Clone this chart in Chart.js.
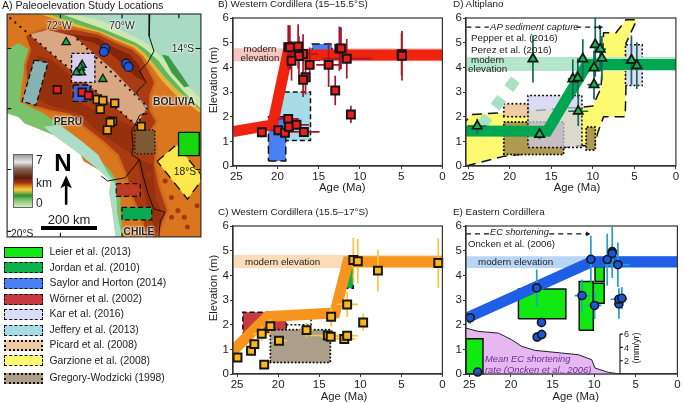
<!DOCTYPE html>
<html>
<head>
<meta charset="utf-8">
<script src="https://cdn.jsdelivr.net/npm/chart.js@4"></script>
<style>
  html, body { margin: 0; padding: 0; background: #fff; }
  #page { position: relative; width: 683px; height: 403px; overflow: hidden; font-family: "Liberation Sans", sans-serif; color: #222; }
  canvas { position: absolute; }
  .lbl { position: absolute; white-space: nowrap; line-height: 1; transform: translateY(-50%); }
  .swatch { position: absolute; left: 4px; width: 39px; height: 10px; box-sizing: border-box; }
</style>
</head>
<body>
<div id="page"></div>
<script>
// panel B, Western Cordillera 15-15.5
const bAge = [21.9, 19.9, 19.1, 18.7, 18.6, 17.7, 16.8, 18.7, 18.5, 17.5, 16.9, 17.4, 18.3, 16.1, 16.6, 16.9, 13.8, 13.0, 12.5, 12.3, 11.6, 11.1, 4.95, 4.9];
const bElev = [1.37, 1.45, 1.35, 1.91, 1.59, 1.67, 1.38, 4.82, 4.81, 4.85, 4.54, 4.46, 4.27, 4.1, 3.6, 3.5, 4.1, 3.06, 4.76, 4.77, 4.35, 2.09, 4.53, 4.47];
const bAgeErr = [0.5, 1, 0.5, 1.3, 0.5, 1.5, 1.9, 0.3, 0.3, 0.2, 1.8, 0.3, 0.3, 0.4, 0.4, 0.3, 1.5, 0, 0.3, 0.3, 3, 0.3, 0.2, 0.2];
const bElevErr = [0.2, 0.2, 0.2, 0.15, 0.3, 0.2, 0.2, 0.9, 0.9, 0.9, 0.8, 0.8, 0.8, 0.7, 0.7, 0.7, 0.9, 0.6, 0.9, 0.85, 0.8, 0.35, 0.85, 1.0];
const bTrendAge = [25.4, 20.6, 18.8, 0];
const bTrendElev = [1.4, 1.67, 4.5, 4.5];
const bModern = [4.25, 4.77];
const bJeffery = [20.2, 16, 1.03, 3.0];
const bSaylorLow = [21.1, 19, 0.2, 2.0];
const bSaylorHigh = [15.8, 13.4, 4.3, 4.95];

// panel C, Western Cordillera 15.5-17
const cAge = [24.95, 23.3, 22.9, 22, 21.7, 20.95, 19.9, 16.55, 13.95, 13.6, 13.55, 11.95, 11.6, 11.6, 10.85, 10.3, 9.65, 7.85, 0.5];
const cElev = [0.67, 0.94, 1.21, 1.63, 0.38, 1.94, 1.35, 1.78, 1.56, 1.51, 2.32, 1.42, 1.55, 2.82, 4.62, 4.57, 2.09, 4.19, 4.5];
const cAgeErr = [0, 0.5, 0.5, 1, 0.3, 0.6, 1, 0.8, 2.3, 1.2, 0.3, 1.3, 1.3, 1.3, 0.2, 0.2, 0.2, 0.1, 0.1];
const cElevErr = [0, 0.2, 0.2, 0.3, 0.1, 0.3, 0.2, 0.3, 0.2, 0.2, 0.4, 0.2, 0.2, 0.5, 0.9, 0.9, 0.35, 0.85, 1.0];
const cTrendAge = [25.7, 21.3, 13.1, 11.5, 0];
const cTrendElev = [0.88, 2.33, 2.47, 4.55, 4.55];
const cModern = [4.3, 4.82];
const cWorner = [24.3, 19, 1.66, 2.5];
const cKar = [19, 16, 2.0, 2.5];
const cGregory = [20.95, 13.65, 0.47, 1.79];
const cJordan = [12.05, 10.85, 3.48, 4.33];

// panel D, Altiplano
const dAge = [23.9, 16.4, 17.2, 12.4, 11.8, 11.2, 11.75, 9.85, 9.85, 9.7, 9.1, 8.9, 5.35, 4.7];
const dElev = [1.62, 1.28, 4.34, 3.53, 3.57, 4.34, 2.22, 3.98, 3.3, 4.92, 4.74, 4.37, 4.29, 4.07];
const dAgeErr = [1.1, 0.3, 0.3, 0.6, 0.4, 0.3, 1.2, 0.6, 0.8, 0.3, 0.7, 0.3, 1, 0.6];
const dElevErr = [0.3, 0.2, 0.95, 0.8, 0.8, 0.8, 0.6, 0.7, 0.6, 1.3, 0.9, 0.9, 1, 0.95];
const dTrendAge = [25.25, 15.5, 10.7, 0];
const dTrendElev = [1.42, 1.41, 4.11, 4.11];
const dGhostAge = [23.4, 18.45];
const dGhostElev = [1.64, 3.88];
const dModern = [3.85, 4.42];
const dPicard = [20.7, 17.75, 2.0, 2.52];
const dGregory = [20.7, 13.5, 0.47, 1.78];
const dGregorySmall = [10.8, 9.7, 0.65, 1.58];
const dKar = [17.8, 11.3, 0.75, 2.86];
const dKarSmall = [6.07, 4.05, 3.26, 4.92];
const dGarzioneAge = [25.25, 20.6, 17.8, 13.5, 11.3, 10.5, 9.9, 9.4, 8.7, 6.1, 6.0, 6.0, 4.7, 6.0, 7.2, 8.7, 9.0, 10.0, 11.9, 12.9, 17.7, 20.6, 24.6, 25.25];
const dGarzioneElev = [0, 0.4, 0.5, 0.75, 0.83, 0.81, 0.67, 1.35, 2.0, 2.0, 3.25, 4.98, 5.93, 5.93, 5.4, 5.4, 3.17, 2.43, 2.36, 2.36, 2.23, 2.16, 2.09, 1.82];
const dCaptureLeftAge = [25.2, 22.5];
const dCaptureRightAge = [12, 9.1];
const dCaptureElev = [5.63, 5.63];

// panel E, Eastern Cordillera
const eAge = [24.9, 24, 16.9, 16.33, 16.85, 16.3, 11.46, 10.4, 9.95, 8.43, 7.83, 7.83, 7.15, 7.03, 7.03, 6.67];
const eElev = [2.28, 0.08, 3.49, 2.09, 1.5, 1.6, 3.18, 4.65, 2.78, 4.64, 4.96, 4.89, 4.43, 2.84, 3.03, 3.07];
const eAgeErr = [0.2, 0, 0.3, 0.3, 0.2, 0.2, 0.9, 0.3, 0.8, 0.5, 0.2, 0.2, 1.5, 0.5, 1, 0.3];
const eElevErr = [0.25, 0, 0.75, 0.2, 0.2, 0.2, 0.65, 0.95, 0.55, 1.05, 1, 1, 0.9, 0.6, 0.45, 0.45];
const eTrendAge = [25.4, 10.3, 0];
const eTrendElev = [2.26, 4.55, 4.55];
const eModern = [4.3, 4.77];
const eLeierBoxes = [[19.1, 13.4, 2.24, 3.45], [11.8, 10.1, 1.77, 3.75], [10.1, 8.8, 2.87, 3.68], [9.9, 8.8, 3.75, 4.35], [25.4, 23.36, 0, 1.43]];
const eRateAge = [25.4, 23.9, 21.5, 19.9, 18.7, 17.1, 13.9, 11.9, 10.3, 9.9, 8.3, 6.9];
const eRate = [6.9, 6.4, 6.15, 5.15, 4.15, 3.55, 3.15, 2.9, 2.15, 0.9, 0.25, 0];
const eRateTicks = [0, 2, 4, 6];
const eRateAxisAge = 6.9;
const eCaptureLeftAge = [25.4, 22.6];
const eCaptureRightAge = [15.4, 10.8];
const eCaptureElev = [5.68, 5.68];

// panel A, outlines digitised in map grid units
const mapWidth = [5, 612];
const mapHeight = [42, 720];
const mapFrame = [[5, 42], [612, 42], [612, 720], [5, 720], [5, 42]];
const paleLand = [[5, 42], [205, 42], [300, 62], [400, 110], [450, 135], [500, 185], [560, 250], [612, 300], [612, 720], [5, 720]];
const greenLand = [[5, 42], [175, 42], [240, 65], [300, 85], [360, 110], [410, 130], [440, 150], [480, 185], [510, 225], [560, 280], [612, 330], [612, 720], [5, 720]];
const darkGreen = [[490, 165], [510, 170], [550, 225], [575, 262], [560, 265], [520, 220]];
const yellowLand = [[5, 42], [135, 42], [230, 75], [300, 95], [360, 120], [410, 140], [440, 165], [470, 200], [500, 235], [540, 275], [612, 335], [612, 720], [5, 720]];
const orangeLand = [[5, 42], [110, 42], [215, 80], [290, 100], [350, 125], [400, 145], [430, 170], [460, 205], [490, 245], [530, 285], [612, 345], [612, 720], [5, 720]];
const westGreen = [[5, 150], [40, 130], [75, 150], [60, 200], [50, 260], [45, 310], [120, 345], [200, 400], [280, 470], [330, 520], [360, 570], [360, 640], [370, 720], [345, 720], [330, 550], [290, 515], [235, 470], [150, 410], [60, 375], [5, 345]];
const westPale = [[120, 385], [170, 380], [240, 430], [290, 470], [320, 525], [345, 560], [350, 650], [365, 720], [345, 720], [335, 645], [325, 585], [330, 550], [290, 515], [235, 470], [200, 445], [150, 410]];
const highland = [[65, 110], [120, 90], [215, 90], [290, 105], [345, 130], [395, 150], [425, 175], [445, 210], [465, 250], [450, 290], [450, 335], [470, 370], [450, 400], [470, 440], [465, 500], [480, 570], [505, 640], [480, 700], [470, 720], [440, 720], [430, 660], [400, 600], [380, 530], [355, 470], [310, 430], [250, 385], [200, 345], [145, 335], [90, 320], [70, 270], [65, 200], [80, 150]];
const darkCrest = [[180, 100], [290, 115], [340, 145], [390, 165], [420, 200], [435, 245], [410, 235], [345, 175], [280, 130], [215, 115]];
const darkWest = [[100, 170], [140, 180], [205, 230], [205, 290], [270, 330], [320, 350], [400, 385], [400, 470], [350, 440], [290, 400], [230, 345], [140, 320], [100, 300]];
const darkSouth = [[410, 480], [460, 500], [470, 600], [490, 650], [470, 700], [450, 650], [430, 570]];
const darkSpots = [[450, 530], [500, 550], [520, 660], [560, 660], [540, 640], [600, 625], [520, 600], [570, 690], [510, 500]];
const ocean = [[5, 345], [40, 355], [60, 375], [100, 390], [150, 410], [200, 445], [235, 470], [245, 490], [290, 515], [330, 550], [325, 585], [335, 645], [345, 720], [5, 720]];
const altiplano = [[75, 105], [130, 90], [215, 110], [340, 215], [445, 325], [410, 380], [200, 210]];
const altiplanoSW = [[15, 55], [410, 380], [445, 325], [215, 110]];
const mapKar = [[207, 162], [280, 162], [280, 250], [207, 250], [207, 162]];
const mapJeffery = [[90, 182], [133, 190], [95, 320], [52, 308], [90, 182]];
const mapSaylor = [[212, 258], [265, 258], [265, 308], [212, 308], [212, 258]];
const mapGregory = [[405, 395], [468, 395], [468, 467], [405, 467], [405, 395]];
const mapLeier = [[542, 402], [607, 402], [607, 473], [542, 473], [542, 402]];
const mapGarzione = [[475, 490], [535, 440], [612, 530], [612, 550], [570, 605], [475, 490]];
const mapWorner = [[347, 558], [422, 558], [422, 597], [347, 597], [347, 558]];
const mapJordan = [[365, 630], [458, 630], [458, 668], [365, 668], [365, 630]];
const borderBolivia = [[452, 42], [450, 110], [465, 155], [445, 190], [420, 215], [440, 250], [410, 280], [415, 290]];
const borderGrey = [[415, 290], [445, 340]];
const borderSouth = [[445, 345], [420, 350], [405, 380], [395, 400], [400, 445], [395, 470], [420, 485], [430, 530], [445, 585], [465, 635], [500, 645], [485, 670], [480, 720]];
const borderChile = [[420, 485], [375, 540], [320, 550], [300, 535]];
const mapCircleX = [312, 308, 378, 385];
const mapCircleY = [147, 157, 193, 203];
const mapTriangleX = [190, 240, 235, 238, 222, 305];
const mapTriangleY = [128, 197, 205, 220, 220, 240];
const mapRedX = [162, 240, 260];
const mapRedY = [272, 280, 290];
const mapOrangeX = [287, 305, 342, 297, 335, 328, 319, 425];
const mapOrangeY = [302, 305, 313, 332, 368, 372, 395, 384];
const northArrow = [[190, 533], [208, 572], [194, 565], [194, 622], [186, 622], [186, 565], [172, 572]];
const mapTicks = [[172, 42], [172, 55], [NaN, NaN], [365, 42], [365, 55], [NaN, NaN], [543, 42], [543, 55], [NaN, NaN],
  [612, 147], [595, 147], [NaN, NaN], [612, 515], [595, 515], [NaN, NaN], [5, 147], [18, 147], [NaN, NaN], [5, 330], [18, 330], [NaN, NaN],
  [5, 515], [18, 515], [NaN, NaN], [5, 703], [18, 703], [NaN, NaN], [172, 720], [172, 707], [NaN, NaN], [365, 720], [365, 707]];

const legendNames = ["Leier et al. (2013)", "Jordan et al. (2010)", "Saylor and Horton (2014)", "Wörner et al. (2002)", "Kar et al. (2016)", "Jeffery et al. (2013)", "Picard et al. (2008)", "Garzione et al. (2008)", "Gregory-Wodzicki (1998)"];
const legendRows = [252, 267.7, 283.3, 299, 314.3, 330, 345.3, 360.7, 378.3];

// styles per study
const STUDY = {
  leier: { fill: "#12e812", dash: [], width: 1.5, css: "1.5px solid #111" },
  jordan: { fill: "#0db14b", dash: [5, 3], width: 1.5, css: "1.5px dashed #111" },
  saylor: { fill: "#4a80f5", dash: [8, 4], width: 1.5, css: "1.5px dashed #111" },
  worner: { fill: "#c73a3f", dash: [5, 3], width: 1.5, css: "1.5px dashed #111" },
  kar: { fill: "rgba(212,212,248,0.82)", dash: [2, 2], width: 1.5, css: "1.5px dashed #111" },
  jeffery: { fill: "#a7dbe8", dash: [5, 3], width: 1.5, css: "1.5px dashed #111" },
  picard: { fill: "#efcba5", dash: [0.1, 4], width: 2, cap: "round", css: "2px dotted #111" },
  garzione: { fill: "#fdfa72", dash: [10, 6], width: 1.5, css: "1.5px dashed #111" },
  gregory: { fill: "#ab9f8c", dash: [0.1, 3.5], width: 2, cap: "round", css: "2px dotted #111" },
};
const FONT = "Liberation Sans";
const gap = { x: NaN, y: NaN };

function toPts(xs, ys) { return xs.map((x, i) => ({ x: x, y: ys[i] })); }
function pairs(arr) { return arr.map((p) => ({ x: p[0], y: p[1] })); }
function rectPts(b) {
  return [{ x: b[0], y: b[2] }, { x: b[1], y: b[2] }, { x: b[1], y: b[3] }, { x: b[0], y: b[3] }, { x: b[0], y: b[2] }];
}

function shape(pts, fill, extra) {
  return Object.assign({ data: pts, showLine: true, fill: "shape", backgroundColor: fill, borderColor: "transparent", borderWidth: 0, pointRadius: 0, tension: 0, clip: 0 }, extra);
}
function box(pts, study, fillOverride) {
  const s = STUDY[study];
  return shape(pts, fillOverride || s.fill, { borderColor: "#111", borderWidth: s.width, borderDash: s.dash, borderCapStyle: s.cap || "butt", clip: 2 });
}
function line(pts, color, width, extra) {
  return Object.assign({ data: pts, showLine: true, fill: false, borderColor: color, borderWidth: width, pointRadius: 0, tension: 0, borderJoinStyle: "miter", borderCapStyle: "butt", clip: 0 }, extra);
}
function modernBand(range, xmax, color) { return shape(rectPts([xmax, 0, range[0], range[1]]), color); }
function errBars(ages, elevs, ageErr, elevErr, color) {
  const pts = [];
  ages.forEach((a, i) => {
    if (ageErr[i] > 0) pts.push({ x: a - ageErr[i], y: elevs[i] }, { x: a + ageErr[i], y: elevs[i] }, gap);
    if (elevErr[i] > 0) pts.push({ x: a, y: elevs[i] - elevErr[i] }, { x: a, y: elevs[i] + elevErr[i] }, gap);
  });
  return line(pts, color, 1.7);
}
function marks(xs, ys, style, color, r, bw, edge, rot) {
  return { data: toPts(xs, ys), showLine: false, pointStyle: style, pointRadius: r, pointRotation: rot || 0, pointBackgroundColor: color, pointBorderColor: edge || "#151515", pointBorderWidth: bw === undefined ? 2 : bw, clip: 10 };
}

const framePlugin = {
  id: "frame",
  afterDatasetsDraw(chart) {
    const a = chart.chartArea, c = chart.ctx;
    c.save();
    c.strokeStyle = "#333";
    c.lineWidth = 1.2;
    c.strokeRect(a.left, a.top, a.right - a.left, a.bottom - a.top);
    c.restore();
  },
};

const page = document.getElementById("page");
function makeCanvas(left, top, w, h) {
  const cv = document.createElement("canvas");
  cv.style.left = left + "px";
  cv.style.top = top + "px";
  cv.style.width = w + "px";
  cv.style.height = h + "px";
  cv.width = w;
  cv.height = h;
  page.appendChild(cv);
  return cv;
}
function render(cv, datasets, scales, padding) {
  const n = datasets.length;
  datasets.forEach((d, i) => { d.order = n - i; }); // first in list is painted first
  return new Chart(cv.getContext("2d"), {
    type: "scatter",
    data: { datasets: datasets },
    options: {
      responsive: false,
      animation: false,
      events: [],
      layout: { padding: padding },
      plugins: { legend: { display: false }, tooltip: { enabled: false } },
      scales: scales,
    },
    plugins: [framePlugin],
  });
}

// plot area is given in page pixels, the canvas is built round it
function panel(left, right, top, bottom, xMax, datasets, extraScales) {
  const padL = 28, padR = 5, padT = 18, padB = 34;
  const cv = makeCanvas(left - padL, top - padT, right - left + padL + padR, bottom - top + padT + padB);
  const tickFont = { family: FONT, size: 11.5 };
  const scales = Object.assign({
    x: {
      type: "linear", min: 0, max: xMax, reverse: true,
      ticks: { stepSize: 5, includeBounds: false, maxRotation: 0, font: tickFont, color: "#222", padding: 1 },
      grid: { drawOnChartArea: false, tickLength: 3, color: "#333" },
      border: { color: "#333", width: 1.2 },
      afterFit(s) { s.height = padB; },
    },
    y: {
      type: "linear", min: 0, max: 6,
      ticks: { stepSize: 1, includeBounds: false, font: tickFont, color: "#222", padding: 1 },
      grid: { drawOnChartArea: false, tickLength: 3, color: "#333" },
      border: { color: "#333", width: 1.2 },
      afterFit(s) { s.width = padL; },
    },
  }, extraScales || {});
  return render(cv, datasets, scales, { top: padT, right: padR, left: 0, bottom: 0 });
}

// A) map
function drawMap() {
  const cv = makeCanvas(0, 0, 208, 244);
  const s = (arr, fill, extra) => shape(pairs(arr), fill, extra);
  const datasets = [
    s(mapFrame, "#a8dac4"),
    s(paleLand, "#cde8ae"),
    s(greenLand, "#62b85c"),
    s(darkGreen, "#3c9b45"),
    s(yellowLand, "#e2b63c"),
    s(orangeLand, "#d9761e"),
    s(westGreen, "#79c26a"),
    s(westPale, "#aadcc6"),
    s(ocean, "#ffffff"),
    s(highland, "#a93a12", { borderColor: "#cf6a1c", borderWidth: 5, borderJoinStyle: "round" }),
    s(highland, "#a93a12"),
    s(darkCrest, "#842508"),
    s(darkWest, "#97300d"),
    s(darkSouth, "#97300d"),
    { data: pairs(darkSpots), showLine: false, pointStyle: "circle", pointRadius: 2.5, pointBackgroundColor: "#a5380f", pointBorderWidth: 0 },
    s(altiplano, "#d9a882"),
    line(pairs(altiplanoSW), "#111", 2.2, { borderDash: [0.1, 6.5], borderCapStyle: "round" }),
    s(mapKar, "#d8d0ec", { borderColor: "#111", borderWidth: 1.3, borderDash: [3, 2] }),
    s(mapJeffery, "#86b4b4", { borderColor: "#111", borderWidth: 1.3, borderDash: [5, 3] }),
    s(mapSaylor, "#3f62d8", { borderColor: "#111", borderWidth: 1.3, borderDash: [6, 3] }),
    s(mapGregory, "#7d5a32", { borderColor: "#111", borderWidth: 1.6, borderDash: [0.1, 3.5], borderCapStyle: "round" }),
    s(mapGarzione, "#fde74c", { borderColor: "#111", borderWidth: 1.3, borderDash: [9, 6] }),
    s(mapLeier, "#17d80f", { borderColor: "#111", borderWidth: 1.3 }),
    s(mapWorner, "#bd3a24", { borderColor: "#111", borderWidth: 1.3, borderDash: [5, 3] }),
    s(mapJordan, "#0aaa55", { borderColor: "#111", borderWidth: 1.3, borderDash: [5, 3] }),
    line(pairs(borderBolivia), "#111", 1),
    line(pairs(borderGrey), "#777", 1),
    line(pairs(borderSouth), "#111", 1),
    line(pairs(borderChile), "#111", 1),
    line(pairs(mapTicks), "#111", 1.2),
    s(northArrow, "#000"),
    marks(mapCircleX, mapCircleY, "circle", "#1a56e0", 4.5, 1.2),
    marks(mapTriangleX, mapTriangleY, "triangle", "#12a84c", 4.8, 1.3),
    marks(mapRedX, mapRedY, "rect", "#ee1c1c", 5.4, 1.7),
    marks(mapOrangeX, mapOrangeY, "rect", "#f4a71d", 5.4, 1.7),
  ];
  render(cv, datasets, {
    x: { type: "linear", display: false, min: mapWidth[0], max: mapWidth[1] },
    y: { type: "linear", display: false, min: mapHeight[0], max: mapHeight[1], reverse: true },
  }, { left: 2, top: 14, right: 4, bottom: 4 });
}

// B) Western Cordillera
function drawB() {
  panel(233, 445, 18, 166, 25.4, [
    modernBand(bModern, 25.4, "#f8c5bf"),
    box(rectPts(bJeffery), "jeffery"),
    box(rectPts(bSaylorLow), "saylor"),
    box(rectPts(bSaylorHigh), "saylor"),
    line(toPts(bTrendAge, bTrendElev), "#f0230f", 11),
    errBars(bAge, bElev, bAgeErr, bElevErr, "#a5162a"),
    marks(bAge, bElev, "rect", "#ee1c1c", 5.6),
  ]);
}

// C) Western Cordillera
function drawC() {
  panel(233, 445, 226, 374, 25.5, [
    modernBand(cModern, 25.5, "#fbdcb8"),
    box(rectPts(cWorner), "worner"),
    box(rectPts(cKar), "kar", "#ffffff"),
    box(rectPts(cGregory), "gregory"),
    box(rectPts(cJordan), "jordan"),
    line(toPts(cTrendAge, cTrendElev), "#f7941d", 11),
    errBars(cAge, cElev, cAgeErr, cElevErr, "#f9c73e"),
    marks(cAge, cElev, "rect", "#fbb714", 5.6),
  ]);
}

// D) Altiplano
function drawD() {
  panel(466, 678, 18, 166, 25.25, [
    box(toPts(dGarzioneAge, dGarzioneElev), "garzione"),
    box(rectPts(dPicard), "picard"),
    box(rectPts(dGregory), "gregory", "#b09a50"),
    box(rectPts(dKar), "kar", "rgba(205,205,240,0.72)"),
    box(rectPts(dGregorySmall), "gregory", "#b09a50"),
    box(rectPts(dKarSmall), "kar"),
    modernBand(dModern, 25.25, "#b5e5ca"),
    line(toPts(dGhostAge, dGhostElev), "#a8e0c2", 11, { borderDash: [11, 12] }),
    line(toPts(dTrendAge, dTrendElev), "#00a651", 11),
    errBars(dAge, dElev, dAgeErr, dElevErr, "#14695a"),
    marks(dAge, dElev, "triangle", "#19b54e", 5.4, 1.7),
    line(toPts(dCaptureLeftAge, dCaptureElev), "#111", 1.1, { borderDash: [5, 4] }),
    line(toPts(dCaptureRightAge, dCaptureElev), "#111", 1.1, { borderDash: [5, 4] }),
    marks([dCaptureRightAge[1]], [dCaptureElev[1]], "triangle", "#111", 2.8, 0, "#111", 90),
  ]);
}

// E) Eastern Cordillera, shortening rate sits on its own hidden scale
function drawE() {
  const rateAxis = [{ x: eRateAxisAge, y: eRateTicks[0] }, { x: eRateAxisAge, y: eRateTicks[eRateTicks.length - 1] }];
  const rateMarks = [];
  eRateTicks.forEach((t) => { rateMarks.push({ x: eRateAxisAge, y: t }, { x: eRateAxisAge - 0.35, y: t }, gap); });
  const rateShape = toPts(eRateAge, eRate).concat([{ x: eRateAge[0], y: 0 }, { x: eRateAge[0], y: eRate[0] }]);
  const ds = [
    shape(rateShape, "#e5b8f2", { yAxisID: "yRate" }),
    line(toPts(eRateAge, eRate), "#222", 1, { yAxisID: "yRate" }),
    line(rateAxis, "#111", 1.1, { yAxisID: "yRate" }),
    line(rateMarks, "#111", 1.1, { yAxisID: "yRate" }),
    modernBand(eModern, 25.4, "#b9d5f6"),
  ];
  eLeierBoxes.forEach((b) => ds.push(box(rectPts(b), "leier")));
  ds.push(
    line(toPts(eTrendAge, eTrendElev), "#1f5fe6", 11),
    errBars(eAge, eElev, eAgeErr, eElevErr, "#1fa0c8"),
    marks(eAge, eElev, "circle", "#1a56d6", 4, 1.6),
    line(toPts(eCaptureLeftAge, eCaptureElev), "#111", 1.1, { borderDash: [5, 4] }),
    line(toPts(eCaptureRightAge, eCaptureElev), "#111", 1.1, { borderDash: [5, 4] }),
    marks([eCaptureRightAge[1]], [eCaptureElev[1]], "triangle", "#111", 2.8, 0, "#111", 90)
  );
  panel(466, 678, 226, 374, 25.4, ds, {
    yRate: { type: "linear", display: false, min: 0, max: 22.25 },
  });
}

function txt(x, y, str, css) {
  const el = document.createElement("div");
  el.className = "lbl";
  el.textContent = str;
  el.style.cssText = "left:" + x + "px;top:" + y + "px;font-size:10.3px;" + (css || "");
  page.appendChild(el);
}

const halo = "text-shadow:0 0 2px #fff,0 0 2px #fff,0 0 3px #fff;";
const center = "transform:translate(-50%,-50%);";
const head = "font-size:9.9px;";
const ital = "font-style:italic;font-size:9.4px;";
const rateLbl = "font-size:9px;";
const axisTitle = "font-size:11.3px;";
const cite = "font-size:9.8px;";
function drawText() {
  txt(2, 4.5, "A) Paleoelevation Study Locations", "font-size:10.6px;");
  txt(218, 4, "B) Western Cordillera (15–15.5°S)", head);
  txt(453, 4, "D) Altiplano", head);
  txt(218, 212, "C) Western Cordillera (15.5–17°S)", head);
  txt(453, 212, "E) Eastern Cordillera", head);

  // axis titles sit off-centre in the reference, so they are placed by hand
  txt(342.3, 188, "Age (Ma)", center + axisTitle);
  txt(577, 188, "Age (Ma)", center + axisTitle);
  txt(344, 396.7, "Age (Ma)", center + axisTitle);
  txt(575.7, 396.7, "Age (Ma)", center + axisTitle);
  txt(214, 80, "Elevation (m)", axisTitle + "transform:translate(-50%,-50%) rotate(-90deg);");
  txt(214, 288, "Elevation (m)", axisTitle + "transform:translate(-50%,-50%) rotate(-90deg);");

  txt(260, 49, "modern", center + "font-size:9.7px;");
  txt(260, 58, "elevation", center + "font-size:9.7px;");
  txt(490, 27, "AP sediment capture", "font-style:italic;font-size:9.6px;");
  txt(471, 38, "Pepper et al. (2016)", cite);
  txt(471, 50, "Perez et al. (2016)", cite);
  txt(471, 60, "modern", "font-size:9.8px;");
  txt(468, 69, "elevation", "font-size:9.8px;");
  txt(245, 262, "modern elevation", "font-size:9.8px;");
  txt(490, 233, "EC shortening", "font-style:italic;font-size:9.3px;");
  txt(468, 244, "Oncken et al. (2006)", "font-size:9.6px;");
  txt(478, 262, "modern elevation", "font-size:9.8px;");
  txt(485, 359, "Mean EC shortening", ital + "color:#6f2a96;");
  txt(485, 369.5, "rate (Oncken et al., 2006)", ital + "color:#6f2a96;");
  txt(624, 334, "6", rateLbl);
  txt(624, 347.5, "4", rateLbl);
  txt(624, 361, "2", rateLbl);
  txt(636, 348, "(mm/yr)", rateLbl + "transform:translate(-50%,-50%) rotate(-90deg);");

  txt(59, 26, "72°W", center + halo);
  txt(122, 26, "70°W", center + halo);
  txt(183, 49, "14°S", center + halo);
  txt(185, 172, "18°S", center);
  txt(11, 234, "20°S");
  txt(174, 102, "BOLIVIA", center + halo + "font-weight:bold;");
  txt(68, 122, "PERU", center + halo + "font-weight:bold;");
  txt(139, 232, "CHILE", center + halo + "font-weight:bold;");
  txt(36, 160, "7", "font-size:12px;");
  txt(36, 183, "km", "font-size:12px;");
  txt(36, 203, "0", "font-size:12px;");
  txt(63, 163, "N", center + "font-size:24px;font-weight:bold;color:#000;");
  txt(69, 219, "200 km", center + "font-size:13px;");

  const bar = document.createElement("div");
  bar.style.cssText = "position:absolute;left:13px;top:154px;width:20px;height:54px;box-sizing:border-box;border:1px solid #667;" +
    "background:linear-gradient(#9a9a9a,#e8e8e8 14%,#8a6a5a 26%,#5a1a0a 44%,#a5380f 54%,#e8a020 62%,#f0d040 67%,#2f8f35 78%,#7cc36b 86%,#d8ecb8 100%);";
  page.appendChild(bar);
  const scaleBar = document.createElement("div");
  scaleBar.style.cssText = "position:absolute;left:41px;top:226px;width:56px;height:4px;background:#000;";
  page.appendChild(scaleBar);

  const keys = Object.keys(STUDY);
  legendNames.forEach((name, i) => {
    const sw = document.createElement("div");
    sw.className = "swatch";
    sw.style.top = legendRows[i] - 5.5 + "px";
    sw.style.height = "11px";
    sw.style.background = STUDY[keys[i]].fill;
    sw.style.border = STUDY[keys[i]].css;
    page.appendChild(sw);
    txt(49.5, legendRows[i], name, "font-size:10.4px;");
  });
}

drawMap();
drawB();
drawC();
drawD();
drawE();
drawText();
</script>
</body>
</html>
